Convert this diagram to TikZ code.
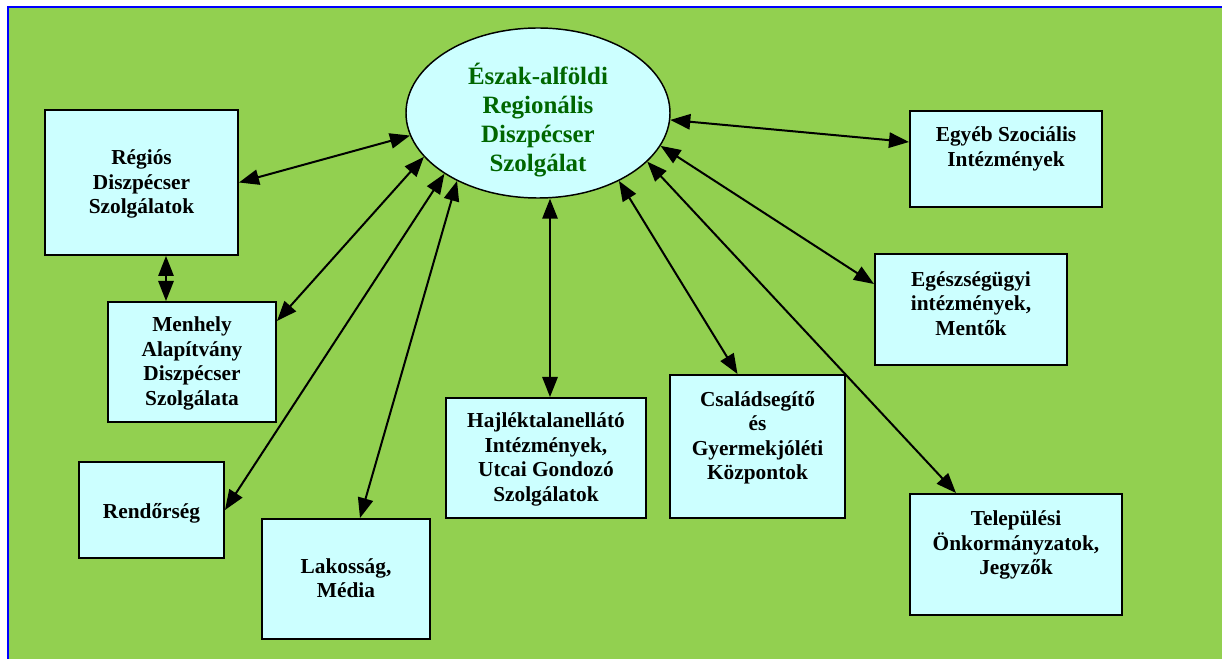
\documentclass[tikz,border=0pt]{standalone}
\usepackage{fontspec}
\setmainfont{Liberation Serif}
\usetikzlibrary{arrows.meta,calc,shapes.geometric}
\definecolor{bgreen}{RGB}{146,208,80}
\definecolor{boxfill}{RGB}{204,255,255}
\definecolor{frameblue}{RGB}{0,0,255}
\definecolor{titlegreen}{RGB}{0,102,0}
\newcommand\boxtext[2]{\raisebox{#1}[0pt][0pt]{\begin{tabular}{@{}c@{}}#2\end{tabular}}}
\begin{document}
\begin{tikzpicture}[x=0.75pt,y=-0.75pt,
  box/.style={draw=black,line width=1.5pt,fill=boxfill,inner sep=0pt,
    font=\fontsize{16}{18.3}\selectfont\bfseries},
  hub/.style={ellipse,draw=black,line width=1.1pt,fill=boxfill,inner sep=0pt,
    minimum width=198pt,minimum height=127.5pt,text=titlegreen,
    font=\fontsize{18.7}{21.8}\selectfont\bfseries},
  tip/.tip={Triangle[length=15pt,width=11.5pt]},
  link/.style={line width=1.5pt,tip-tip},
  ]
\useasboundingbox (0,0) rectangle (1222,659);
\fill[bgreen] (8,7) rectangle (1222,659);
\draw[frameblue,line width=1.5pt] (8,659) -- (8,7) -- (1222,7);

\node[hub] (ell) at (538,113) {\boxtext{-11pt}{Észak-alföldi\\Regionális\\Diszpécser\\Szolgálat}};

\node[box,minimum width=144.75pt,minimum height=108.75pt] (reg) at (141.5,182.5)
  {\boxtext{-5.6pt}{Régiós\\Diszpécser\\Szolgálatok}};
\node[box,minimum width=126pt,minimum height=90pt] (men) at (192,362)
  {\boxtext{-5.6pt}{Menhely\\Alapítvány\\Diszpécser\\Szolgálata}};
\node[box,minimum width=108.75pt,minimum height=72pt] (ren) at (151.5,510)
  {\boxtext{-7pt}{Rendőrség}};
\node[box,minimum width=126pt,minimum height=90pt] (lak) at (346,579)
  {\boxtext{-5.6pt}{Lakosság,\\Média}};
\node[box,minimum width=150pt,minimum height=90pt] (haj) at (546,458)
  {\boxtext{-5.6pt}{Hajléktalanellátó\\Intézmények,\\Utcai Gondozó\\Szolgálatok}};
\node[box,minimum width=131.25pt,minimum height=107.25pt] (csal) at (757.5,446.5)
  {\boxtext{1.9pt}{Családsegítő\\és\\Gyermekjóléti\\Központok}};
\node[box,minimum width=159pt,minimum height=90.75pt] (tel) at (1016,554.5)
  {\boxtext{2.65pt}{Települési\\Önkormányzatok,\\Jegyzők}};
\node[box,minimum width=144pt,minimum height=83.25pt] (ege) at (971,309.5)
  {\boxtext{-1.5pt}{Egészségügyi\\intézmények,\\Mentők}};
\node[box,minimum width=144pt,minimum height=72pt] (egy) at (1006,159)
  {\boxtext{3pt}{Egyéb Szociális\\Intézmények}};

\coordinate (hajtop) at ($(haj.north)+(4,0)$);
\draw[link] (reg.east) -- (ell.190);
\draw[link] ($(men.north east)+(0,20)$) -- (ell.201);
\draw[link] (ren.east) -- (ell.213);
\draw[link] ($(lak.north)+(14,0)$) -- (ell.220);
\draw[link] (hajtop) -- (hajtop |- ell.south);
\draw[link] ($(csal.north)+(-20,0)$) -- (ell.320);
\draw[link] ($(tel.north west)+(47,0)$) -- (ell.336);
\draw[link] ($(ege.north west)+(0,31)$) -- (ell.345);
\draw[link] ($(egy.north west)+(0,32)$) -- (ell.357);
\draw[link] ($(reg.south)+(24.5,0)$) -- ($(men.north)+(-26,0)$);
\end{tikzpicture}
\end{document}
